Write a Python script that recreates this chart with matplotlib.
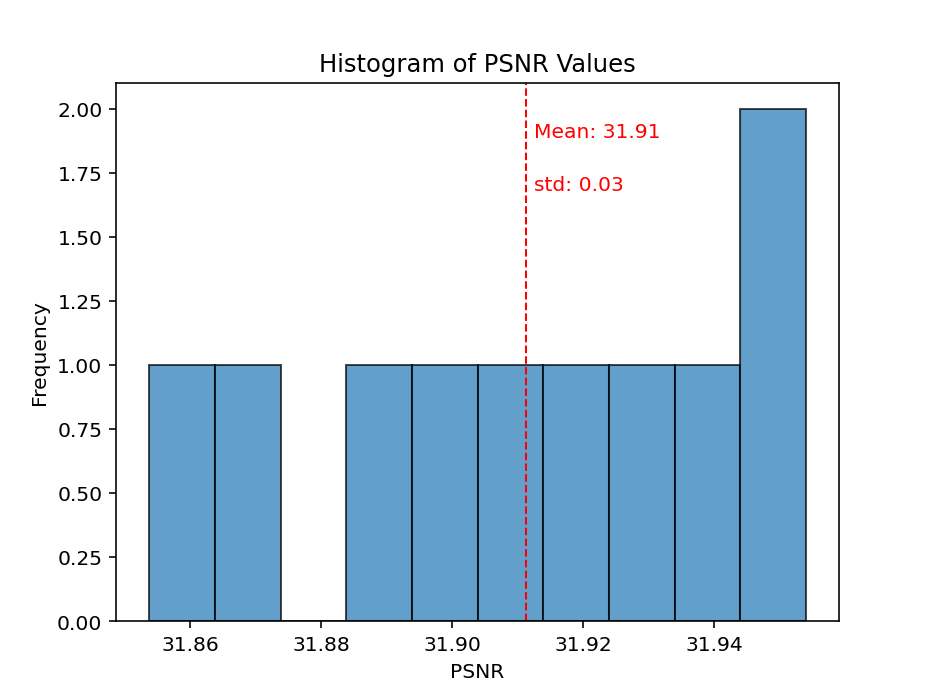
import matplotlib
matplotlib.use('Agg')
import matplotlib.pyplot as plt
import numpy as np

# PSNR values (10 samples, 10 bins)
psnr = np.array([31.8538, 31.8695, 31.8895, 31.8994, 31.9094,
                 31.9194, 31.9294, 31.9393, 31.9493, 31.9540])

mean = np.mean(psnr)
std = np.std(psnr)

fig = plt.figure(figsize=(6.4, 4.8), dpi=145.6)
plt.hist(psnr, bins=10, alpha=0.7, edgecolor='black')
plt.axvline(mean, color='red', linestyle='dashed', linewidth=1)

ymax = plt.ylim()[1]
plt.text(mean + 0.0012, ymax * 0.9, 'Mean: {:.2f}'.format(mean), color='red')
plt.text(mean + 0.0012, ymax * 0.8, 'std: {:.2f}'.format(std), color='red')

plt.xlabel('PSNR')
plt.ylabel('Frequency')
plt.title('Histogram of PSNR Values')
plt.savefig('out.png')
plt.close()
